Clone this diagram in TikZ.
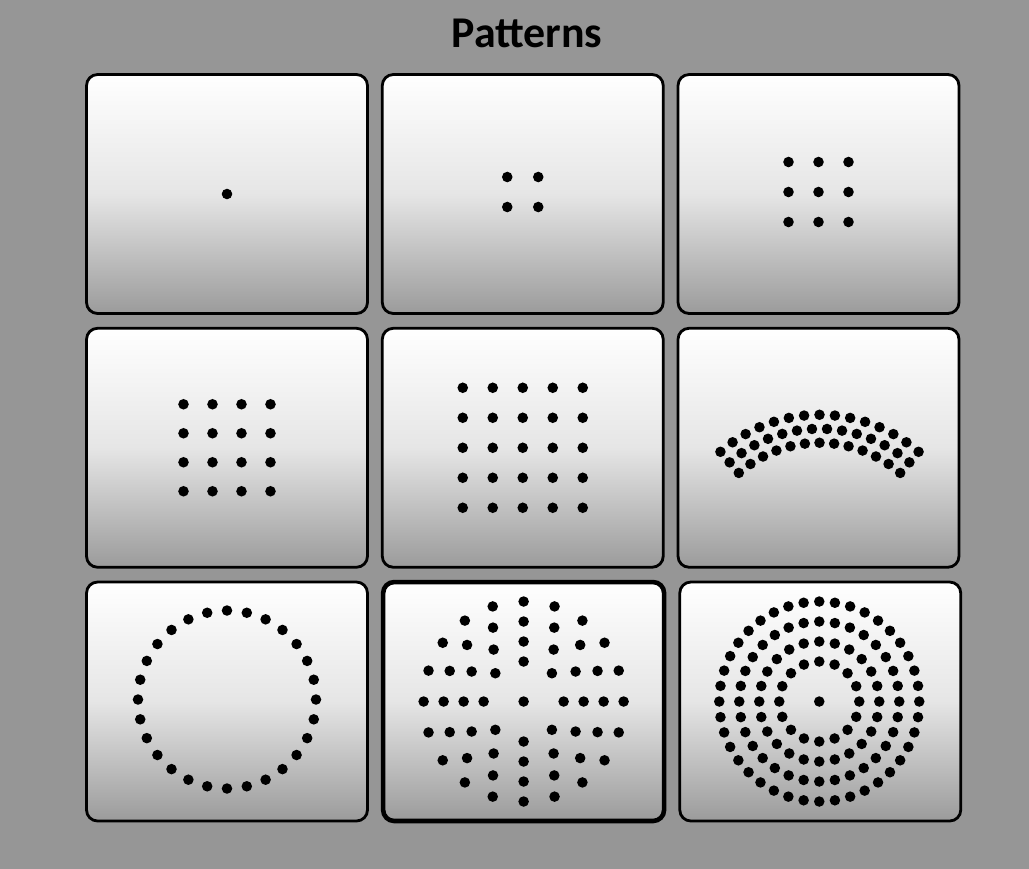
\documentclass[tikz,border=0pt]{standalone}
\usepackage{fontspec}
\usepackage{xcolor}
\usepackage{tikz}
\usetikzlibrary{positioning, calc, shadings}
\setsansfont{Carlito}
\definecolor{bggray}{RGB}{150, 150, 150}
\definecolor{panelgray}{RGB}{155, 155, 155}

\tikzset{
    panel/.style={draw, line width=1.6pt, rounded corners=0.22cm, inner sep=0pt,
        minimum width=5.62cm, minimum height=4.78cm,
        top color=white, bottom color=panelgray, middle color=white!90!black},
    chosen/.style={panel, line width=2.6pt},
    dot/.style={fill=black}
}

\begin{document}
\begin{tikzpicture}[x=0.02cm, y=-0.02cm, node distance=0.24cm and 0.24cm]
        % Background
        \fill[bggray] (0,0) rectangle (1029,869);
        \node[font=\sffamily\bfseries\fontsize{25}{29}\selectfont, anchor=base] (title) at (527,47) {Patterns};

        % Panels
        \node[panel] (p1) at (227,194) {};
        \node[panel, right=of p1] (p2) {};
        \node[panel, right=of p2] (p3) {};
        \node[panel, below=of p1] (p4) {};
        \node[panel, right=of p4] (p5) {};
        \node[panel, right=of p5] (p6) {};
        \node[panel, below=of p4] (p7) {};
        \node[chosen, right=of p7] (p8) {};
        \node[panel, right=of p8] (p9) {};

        % Single dot
        \fill[dot] (p1) circle (3pt);

        % Square grids
        \begin{scope}[shift={(p2)}]
            \foreach \i in {0,1} \foreach \j in {0,1}
                \fill[dot] ({-15.5+31*\i},{-17+30*\j}) circle (3pt);
        \end{scope}
        \begin{scope}[shift={(p3)}]
            \foreach \i in {-1,0,1} \foreach \j in {-1,0,1}
                \fill[dot] ({30*\i},{-2+30*\j}) circle (3pt);
        \end{scope}
        \begin{scope}[shift={(p4)}]
            \foreach \i in {0,...,3} \foreach \j in {0,...,3}
                \fill[dot] ({-43.5+29*\i},{-43.5+29*\j}) circle (3pt);
        \end{scope}
        \begin{scope}[shift={(p5)}]
            \foreach \i in {-2,...,2} \foreach \j in {-2,...,2}
                \fill[dot] ({30*\i},{30*\j}) circle (3pt);
        \end{scope}

        % Arc band
        \begin{scope}[shift={(p6)}]
            \foreach \r/\n in {123/13, 137/14, 151/15}
                \foreach \k in {1,...,\n}
                    \fill[dot] ({1+\r*cos(49+82*(\k-1)/(\n-1))},{118-\r*sin(49+82*(\k-1)/(\n-1))}) circle (3pt);
        \end{scope}

        % Ring
        \begin{scope}[shift={(p7)}]
            \foreach \k in {1,...,28}
                \fill[dot] ({89*cos(90+360*\k/28)},{-2+89*sin(90+360*\k/28)}) circle (3pt);
        \end{scope}

        % Spokes
        \begin{scope}[shift={(p8)}]
            \fill[dot] (0,0) circle (3pt);
            \foreach \r/\n in {40/8, 60/12, 80/16, 100/20}
                \foreach \k in {1,...,\n}
                    \fill[dot] ({\r*cos(360*\k/\n)},{\r*sin(360*\k/\n)}) circle (3pt);
        \end{scope}

        % Filled rings
        \begin{scope}[shift={(p9)}]
            \fill[dot] (-1,0) circle (3pt);
            \foreach \r/\n in {40/16, 60/24, 80/32, 100/40}
                \foreach \k in {1,...,\n}
                    \fill[dot] ({-1+\r*cos(360*\k/\n)},{\r*sin(360*\k/\n)}) circle (3pt);
        \end{scope}
    \end{tikzpicture}
\end{document}
